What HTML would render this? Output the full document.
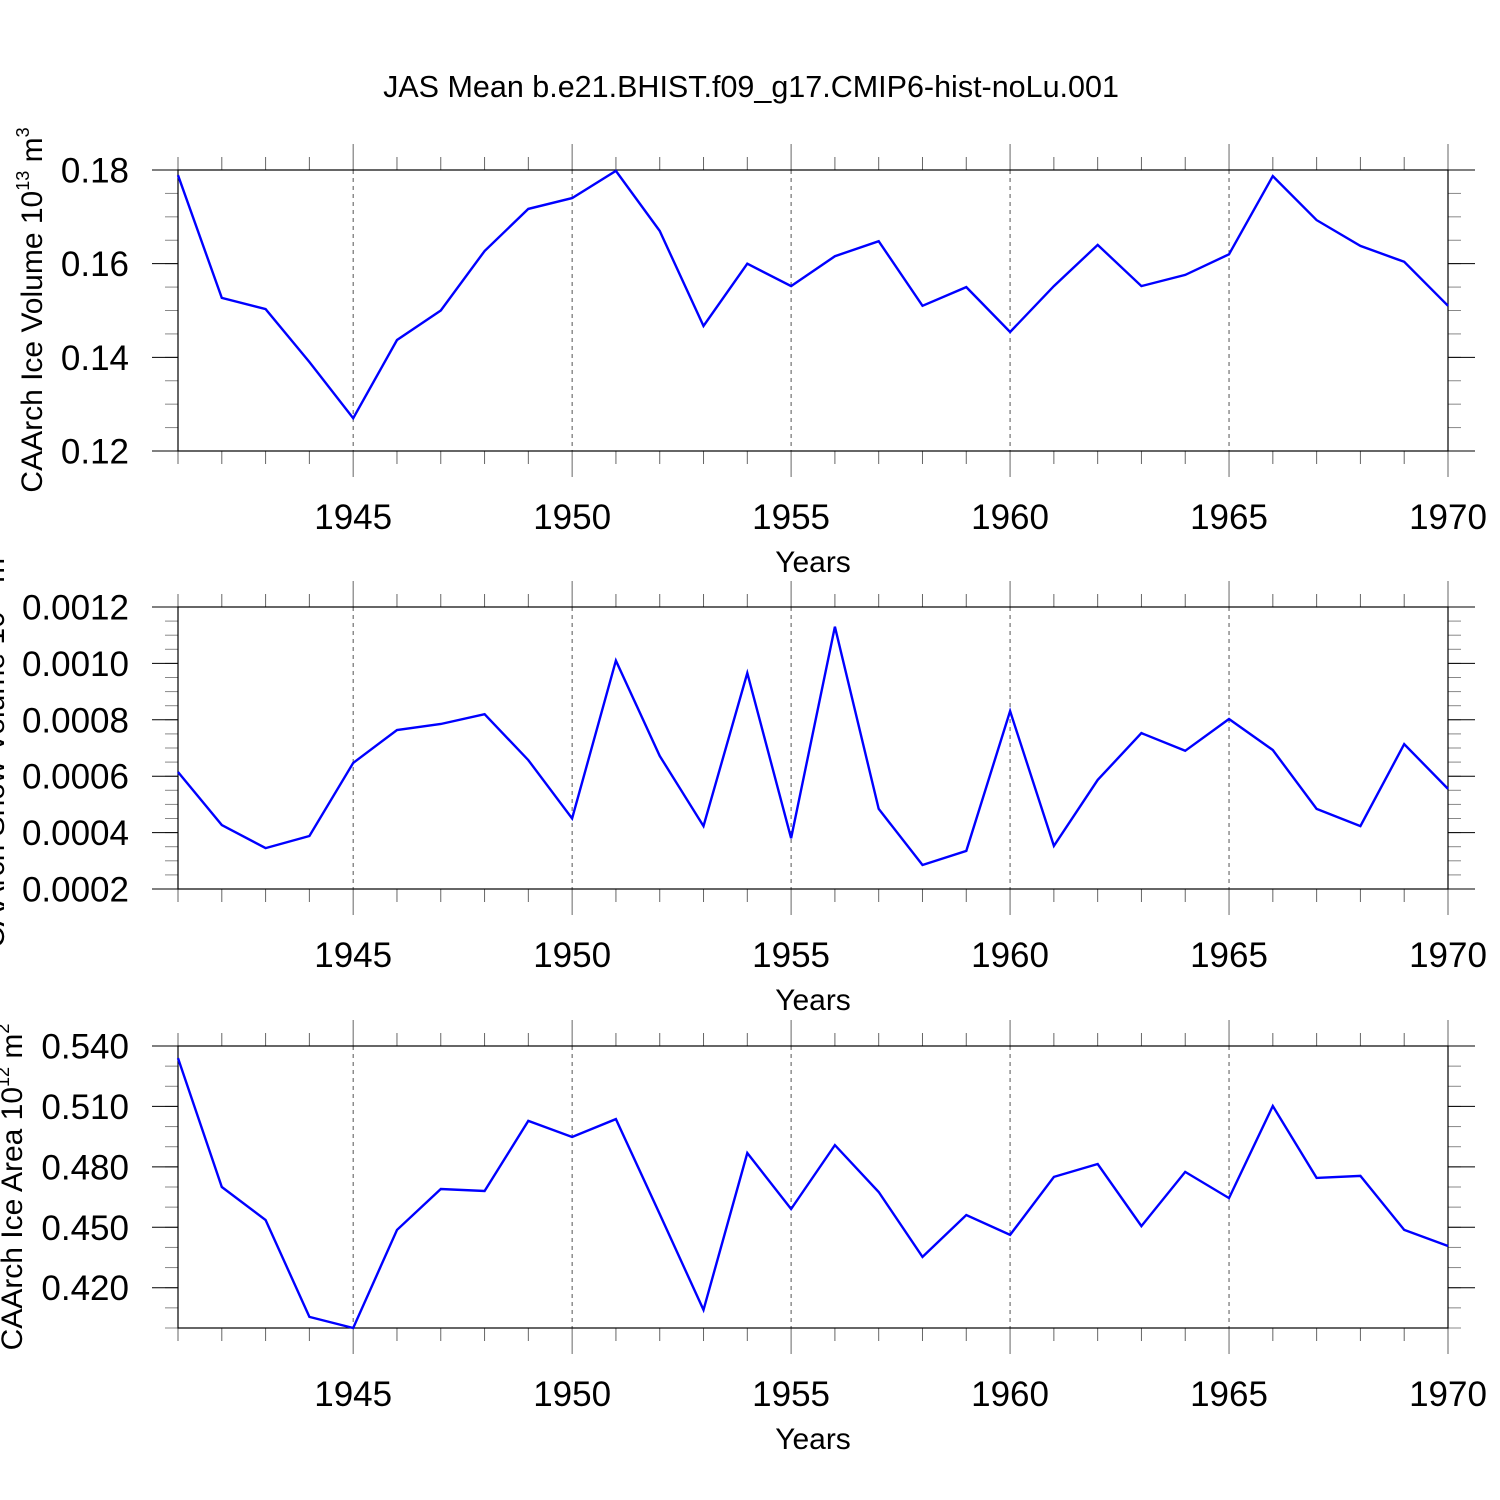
<!DOCTYPE html>
<html><head><meta charset="utf-8"><style>
html,body{margin:0;padding:0;background:#fff;}
svg{display:block;font-family:"Liberation Sans",sans-serif;}
</style></head><body>
<svg id="c" width="1500" height="1500" viewBox="0 0 1500 1500">
<text x="751" y="97" font-size="30.5" text-anchor="middle">JAS Mean b.e21.BHIST.f09_g17.CMIP6-hist-noLu.001</text>
</svg>
<script>
const years = [1941,1942,1943,1944,1945,1946,1947,1948,1949,1950,1951,1952,1953,1954,1955,1956,1957,1958,1959,1960,1961,1962,1963,1964,1965,1966,1967,1968,1969,1970];
const iceVolume = [0.1789,0.1527,0.1503,0.139,0.127,0.1437,0.150,0.1627,0.1717,0.174,0.1798,0.167,0.1467,0.160,0.1552,0.1616,0.1648,0.151,0.155,0.1454,0.1552,0.164,0.1552,0.1576,0.162,0.1787,0.1693,0.1638,0.1604,0.151];
const snowVolume = [0.000615,0.000427,0.000345,0.000388,0.000647,0.000764,0.000785,0.00082,0.000657,0.00045,0.00101,0.000672,0.000423,0.000966,0.00038,0.00113,0.000484,0.000285,0.000335,0.000831,0.000353,0.000587,0.000753,0.00069,0.000803,0.000693,0.000484,0.000423,0.000714,0.000555];
const iceArea = [0.534,0.470,0.4536,0.4055,0.400,0.4487,0.469,0.468,0.5028,0.4948,0.5037,0.4566,0.409,0.4869,0.4591,0.4908,0.4675,0.4353,0.4561,0.4462,0.475,0.4814,0.4506,0.4775,0.4645,0.5102,0.4745,0.4755,0.4487,0.4407];
const xTickLabels = ["1945","1950","1955","1960","1965","1970"];
const iceVolumeTicks = ["0.12","0.14","0.16","0.18"];
const snowVolumeTicks = ["0.0002","0.0004","0.0006","0.0008","0.0010","0.0012"];
const iceAreaTicks = ["0.420","0.450","0.480","0.510","0.540"];

const NS="http://www.w3.org/2000/svg";
const svg=document.getElementById('c');
function mk(tag,attrs,parent){const e=document.createElementNS(NS,tag);for(const k in attrs)e.setAttribute(k,attrs[k]);(parent||svg).appendChild(e);return e;}
const X0=178,X1=1448;
function xs(y){return X0+(y-1941)/(1970-1941)*(X1-X0);}

const panels=[
 {name:'ice-volume',top:170,bot:451,min:0.12,max:0.18,data:iceVolume,ticks:iceVolumeTicks,minor:0.005,label:'CAArch Ice Volume 10',sup:'13',unit:' m',sup2:'3',lx:42,ly:310},
 {name:'snow-volume',top:607,bot:889,min:0.0002,max:0.0012,data:snowVolume,ticks:snowVolumeTicks,minor:0.00005,label:'CAArch Snow Volume 10',sup:'13',unit:' m',sup2:'3',lx:4,ly:748},
 {name:'ice-area',top:1046,bot:1328,min:0.40,max:0.54,data:iceArea,ticks:iceAreaTicks,minor:0.01,label:'CAArch Ice Area 10',sup:'12',unit:' m',sup2:'2',lx:22,ly:1187}
];
panels.forEach(p=>{
 const g=mk('g',{});
 
 
 const ys=v=>p.bot-(v-p.min)/(p.max-p.min)*(p.bot-p.top);
 for(let yr=1945;yr<1970;yr+=5){
  const l=mk('line',{x1:xs(yr),x2:xs(yr),y1:p.top,y2:p.bot,stroke:'#555','stroke-width':1,'stroke-dasharray':'4,4'},g);
  
  
 }
 years.forEach(yr=>{
  const len=(yr%5===0)?26:13;
  mk('line',{x1:xs(yr),x2:xs(yr),y1:p.top-len,y2:p.top,stroke:'#666','stroke-width':1},g);
  mk('line',{x1:xs(yr),x2:xs(yr),y1:p.bot,y2:p.bot+len,stroke:'#666','stroke-width':1},g);
 });
 const n=Math.round((p.max-p.min)/p.minor);
 for(let i=0;i<=n;i++){
  const y=ys(p.min+i*p.minor);
  mk('line',{x1:X0-13,x2:X0,y1:y,y2:y,stroke:'#888','stroke-width':1},g);
  mk('line',{x1:X1,x2:X1+13,y1:y,y2:y,stroke:'#888','stroke-width':1},g);
 }
 p.ticks.forEach(t=>{
  const y=ys(parseFloat(t));
  mk('line',{x1:X0-26,x2:X0,y1:y,y2:y,stroke:'#000','stroke-width':1},g);
  mk('line',{x1:X1,x2:X1+27,y1:y,y2:y,stroke:'#000','stroke-width':1},g);
  const tx=mk('text',{x:129,y:y+12.5,'font-size':35,'text-anchor':'end'},g);
  tx.textContent=t;
  
  
 });
 mk('rect',{x:X0,y:p.top,width:X1-X0,height:p.bot-p.top,fill:'none',stroke:'#000','stroke-width':1.2},g);
 xTickLabels.forEach(t=>{
  const tx=mk('text',{x:xs(+t),y:p.bot+78,'font-size':35,'text-anchor':'middle'},g);
  tx.textContent=t;
  
  
 });
 const xt=mk('text',{x:813,y:p.bot+121,'font-size':30,'text-anchor':'middle'},g);
 xt.textContent='Years';
 
 
 const yt=mk('text',{x:p.lx,y:p.ly,'font-size':30,'text-anchor':'middle',transform:`rotate(-90 ${p.lx} ${p.ly})`},g);
 
 
 yt.appendChild(document.createTextNode(p.label));
 const s1=mk('tspan',{'font-size':18,dy:-13},yt);s1.textContent=p.sup;
 const s2=mk('tspan',{dy:13},yt);s2.textContent=p.unit;
 const s3=mk('tspan',{'font-size':18,dy:-13},yt);s3.textContent=p.sup2;
 const pts=p.data.map((v,i)=>xs(years[i]).toFixed(1)+','+ys(v).toFixed(1)).join(' ');
 const pl=mk('polyline',{points:pts,fill:'none',stroke:'#0000ff','stroke-width':2.4,'stroke-linejoin':'miter'},g);
 
 
});
</script>
</body></html>
